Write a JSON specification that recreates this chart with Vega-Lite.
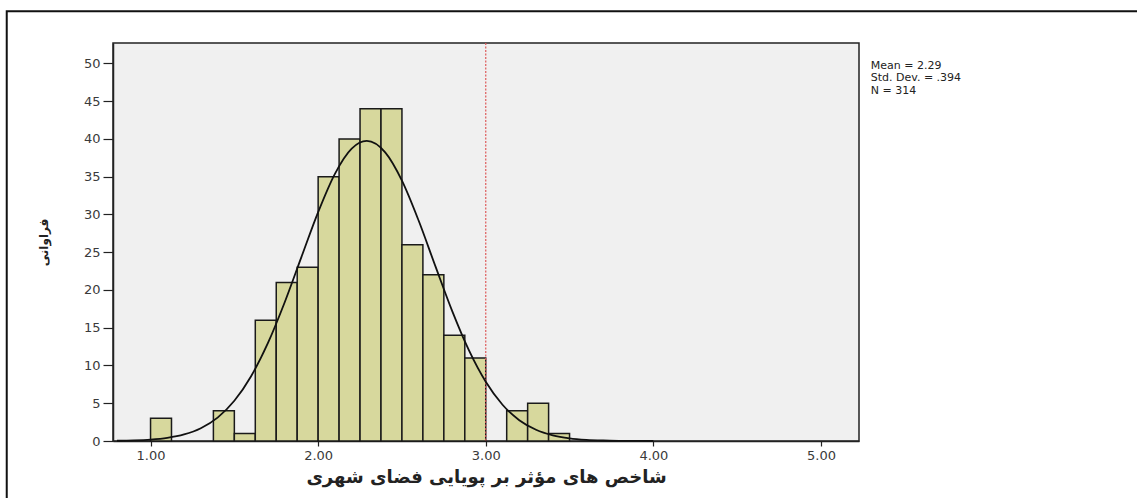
{
  "$schema": "https://vega.github.io/schema/vega-lite/v6.json",
  "width": 746,
  "height": 398,
  "autosize": "none",
  "padding": {"left": 113, "top": 43, "right": 278, "bottom": 57},
  "background": "white",
  "config": {
    "view": {"fill": "#f0f0f0", "stroke": "#222222", "strokeWidth": 1.5},
    "axis": {
      "grid": false,
      "domainColor": "#222222",
      "domainWidth": 1.5,
      "tickColor": "#222222",
      "tickWidth": 1.2,
      "labelFont": "DejaVu Sans",
      "labelFontSize": 13,
      "labelColor": "#3a3a3a",
      "titleFont": "DejaVu Sans",
      "titleFontWeight": "bold",
      "titleColor": "#222222"
    },
    "axisX": {"titleFontSize": 18},
    "axisY": {"titleFontSize": 12}
  },
  "datasets": {
    "bins": [
      {"bin_start": 1.0, "bin_end": 1.125, "count": 3},
      {"bin_start": 1.375, "bin_end": 1.5, "count": 4},
      {"bin_start": 1.5, "bin_end": 1.625, "count": 1},
      {"bin_start": 1.625, "bin_end": 1.75, "count": 16},
      {"bin_start": 1.75, "bin_end": 1.875, "count": 21},
      {"bin_start": 1.875, "bin_end": 2.0, "count": 23},
      {"bin_start": 2.0, "bin_end": 2.125, "count": 35},
      {"bin_start": 2.125, "bin_end": 2.25, "count": 40},
      {"bin_start": 2.25, "bin_end": 2.375, "count": 44},
      {"bin_start": 2.375, "bin_end": 2.5, "count": 44},
      {"bin_start": 2.5, "bin_end": 2.625, "count": 26},
      {"bin_start": 2.625, "bin_end": 2.75, "count": 22},
      {"bin_start": 2.75, "bin_end": 2.875, "count": 14},
      {"bin_start": 2.875, "bin_end": 3.0, "count": 11},
      {"bin_start": 3.125, "bin_end": 3.25, "count": 4},
      {"bin_start": 3.25, "bin_end": 3.375, "count": 5},
      {"bin_start": 3.375, "bin_end": 3.5, "count": 1}
    ],
    "curve": [
      {"x": 0.8, "y": 0.031},
      {"x": 0.9, "y": 0.079},
      {"x": 1.0, "y": 0.187},
      {"x": 1.1, "y": 0.415},
      {"x": 1.2, "y": 0.866},
      {"x": 1.3, "y": 1.691},
      {"x": 1.4, "y": 3.10},
      {"x": 1.5, "y": 5.325},
      {"x": 1.6, "y": 8.58},
      {"x": 1.7, "y": 12.95},
      {"x": 1.8, "y": 18.34},
      {"x": 1.9, "y": 24.35},
      {"x": 2.0, "y": 30.31},
      {"x": 2.1, "y": 35.38},
      {"x": 2.2, "y": 38.72},
      {"x": 2.29, "y": 39.74},
      {"x": 2.4, "y": 38.22},
      {"x": 2.5, "y": 34.48},
      {"x": 2.6, "y": 29.16},
      {"x": 2.7, "y": 23.12},
      {"x": 2.8, "y": 17.20},
      {"x": 2.9, "y": 11.99},
      {"x": 3.0, "y": 7.84},
      {"x": 3.1, "y": 4.80},
      {"x": 3.2, "y": 2.76},
      {"x": 3.3, "y": 1.49},
      {"x": 3.4, "y": 0.751},
      {"x": 3.5, "y": 0.356},
      {"x": 3.6, "y": 0.158},
      {"x": 3.7, "y": 0.066},
      {"x": 3.8, "y": 0.026},
      {"x": 3.9, "y": 0.010},
      {"x": 4.0, "y": 0.003}
    ],
    "one": [{}]
  },
  "layer": [
    {
      "data": {"name": "bins"},
      "mark": {"type": "bar", "fill": "#d7d89d", "stroke": "#1a1a1a", "strokeWidth": 1.5},
      "encoding": {
        "x": {
          "field": "bin_start",
          "type": "quantitative",
          "scale": {"domain": [0.776, 5.227], "nice": false, "zero": false},
          "title": "شاخص های مؤثر بر پویایی فضای شهری",
          "axis": {"values": [1, 2, 3, 4, 5], "format": ".2f", "tickSize": 5, "labelPadding": 3, "titlePadding": 6}
        },
        "x2": {"field": "bin_end"},
        "y": {
          "field": "count",
          "type": "quantitative",
          "scale": {"domain": [0, 52.7], "nice": false},
          "title": "فراوانی",
          "axis": {"values": [0, 5, 10, 15, 20, 25, 30, 35, 40, 45, 50], "tickSize": 10, "labelPadding": 3, "titlePadding": 33, "labelOverlap": false}
        },
        "y2": {"datum": 0}
      }
    },
    {
      "data": {"name": "one"},
      "mark": {"type": "rule", "color": "#dd5a5a", "strokeWidth": 1.2, "strokeDash": [2, 1.5]},
      "encoding": {
        "x": {
          "datum": 3.0, "type": "quantitative",
          "title": "شاخص های مؤثر بر پویایی فضای شهری",
          "axis": {"values": [1, 2, 3, 4, 5], "format": ".2f", "tickSize": 5, "labelPadding": 3, "titlePadding": 6}
        }
      }
    },
    {
      "data": {"name": "curve"},
      "mark": {"type": "line", "color": "#111111", "strokeWidth": 1.8, "interpolate": "monotone"},
      "encoding": {
        "x": {
          "field": "x", "type": "quantitative",
          "title": "شاخص های مؤثر بر پویایی فضای شهری",
          "axis": {"values": [1, 2, 3, 4, 5], "format": ".2f", "tickSize": 5, "labelPadding": 3, "titlePadding": 6}
        },
        "y": {
          "field": "y", "type": "quantitative",
          "title": "فراوانی",
          "axis": {"values": [0, 5, 10, 15, 20, 25, 30, 35, 40, 45, 50], "tickSize": 10, "labelPadding": 3, "titlePadding": 33, "labelOverlap": false}
        }
      }
    },
    {
      "data": {"name": "one"},
      "mark": {"type": "text", "align": "left", "baseline": "top", "font": "DejaVu Sans", "fontSize": 11, "lineHeight": 12.5, "color": "#222222", "lineBreak": "\n", "clip": false},
      "encoding": {
        "x": {
          "datum": 5.297, "type": "quantitative",
          "title": "شاخص های مؤثر بر پویایی فضای شهری",
          "axis": {"values": [1, 2, 3, 4, 5], "format": ".2f", "tickSize": 5, "labelPadding": 3, "titlePadding": 6}
        },
        "y": {
          "datum": 50.5, "type": "quantitative",
          "title": "فراوانی",
          "axis": {"values": [0, 5, 10, 15, 20, 25, 30, 35, 40, 45, 50], "tickSize": 10, "labelPadding": 3, "titlePadding": 33, "labelOverlap": false}
        },
        "text": {"datum": "Mean = 2.29\nStd. Dev. = .394\nN = 314"}
      }
    },
    {
      "data": {"name": "one"},
      "mark": {"type": "rect", "fill": "transparent", "stroke": "#111111", "strokeWidth": 2, "clip": false},
      "encoding": {
        "x": {
          "datum": 0.142, "type": "quantitative",
          "title": "شاخص های مؤثر بر پویایی فضای شهری",
          "axis": {"values": [1, 2, 3, 4, 5], "format": ".2f", "tickSize": 5, "labelPadding": 3, "titlePadding": 6}
        },
        "x2": {"datum": 7.5},
        "y": {
          "datum": 56.9, "type": "quantitative",
          "title": "فراوانی",
          "axis": {"values": [0, 5, 10, 15, 20, 25, 30, 35, 40, 45, 50], "tickSize": 10, "labelPadding": 3, "titlePadding": 33, "labelOverlap": false}
        },
        "y2": {"datum": -10}
      }
    }
  ]
}
